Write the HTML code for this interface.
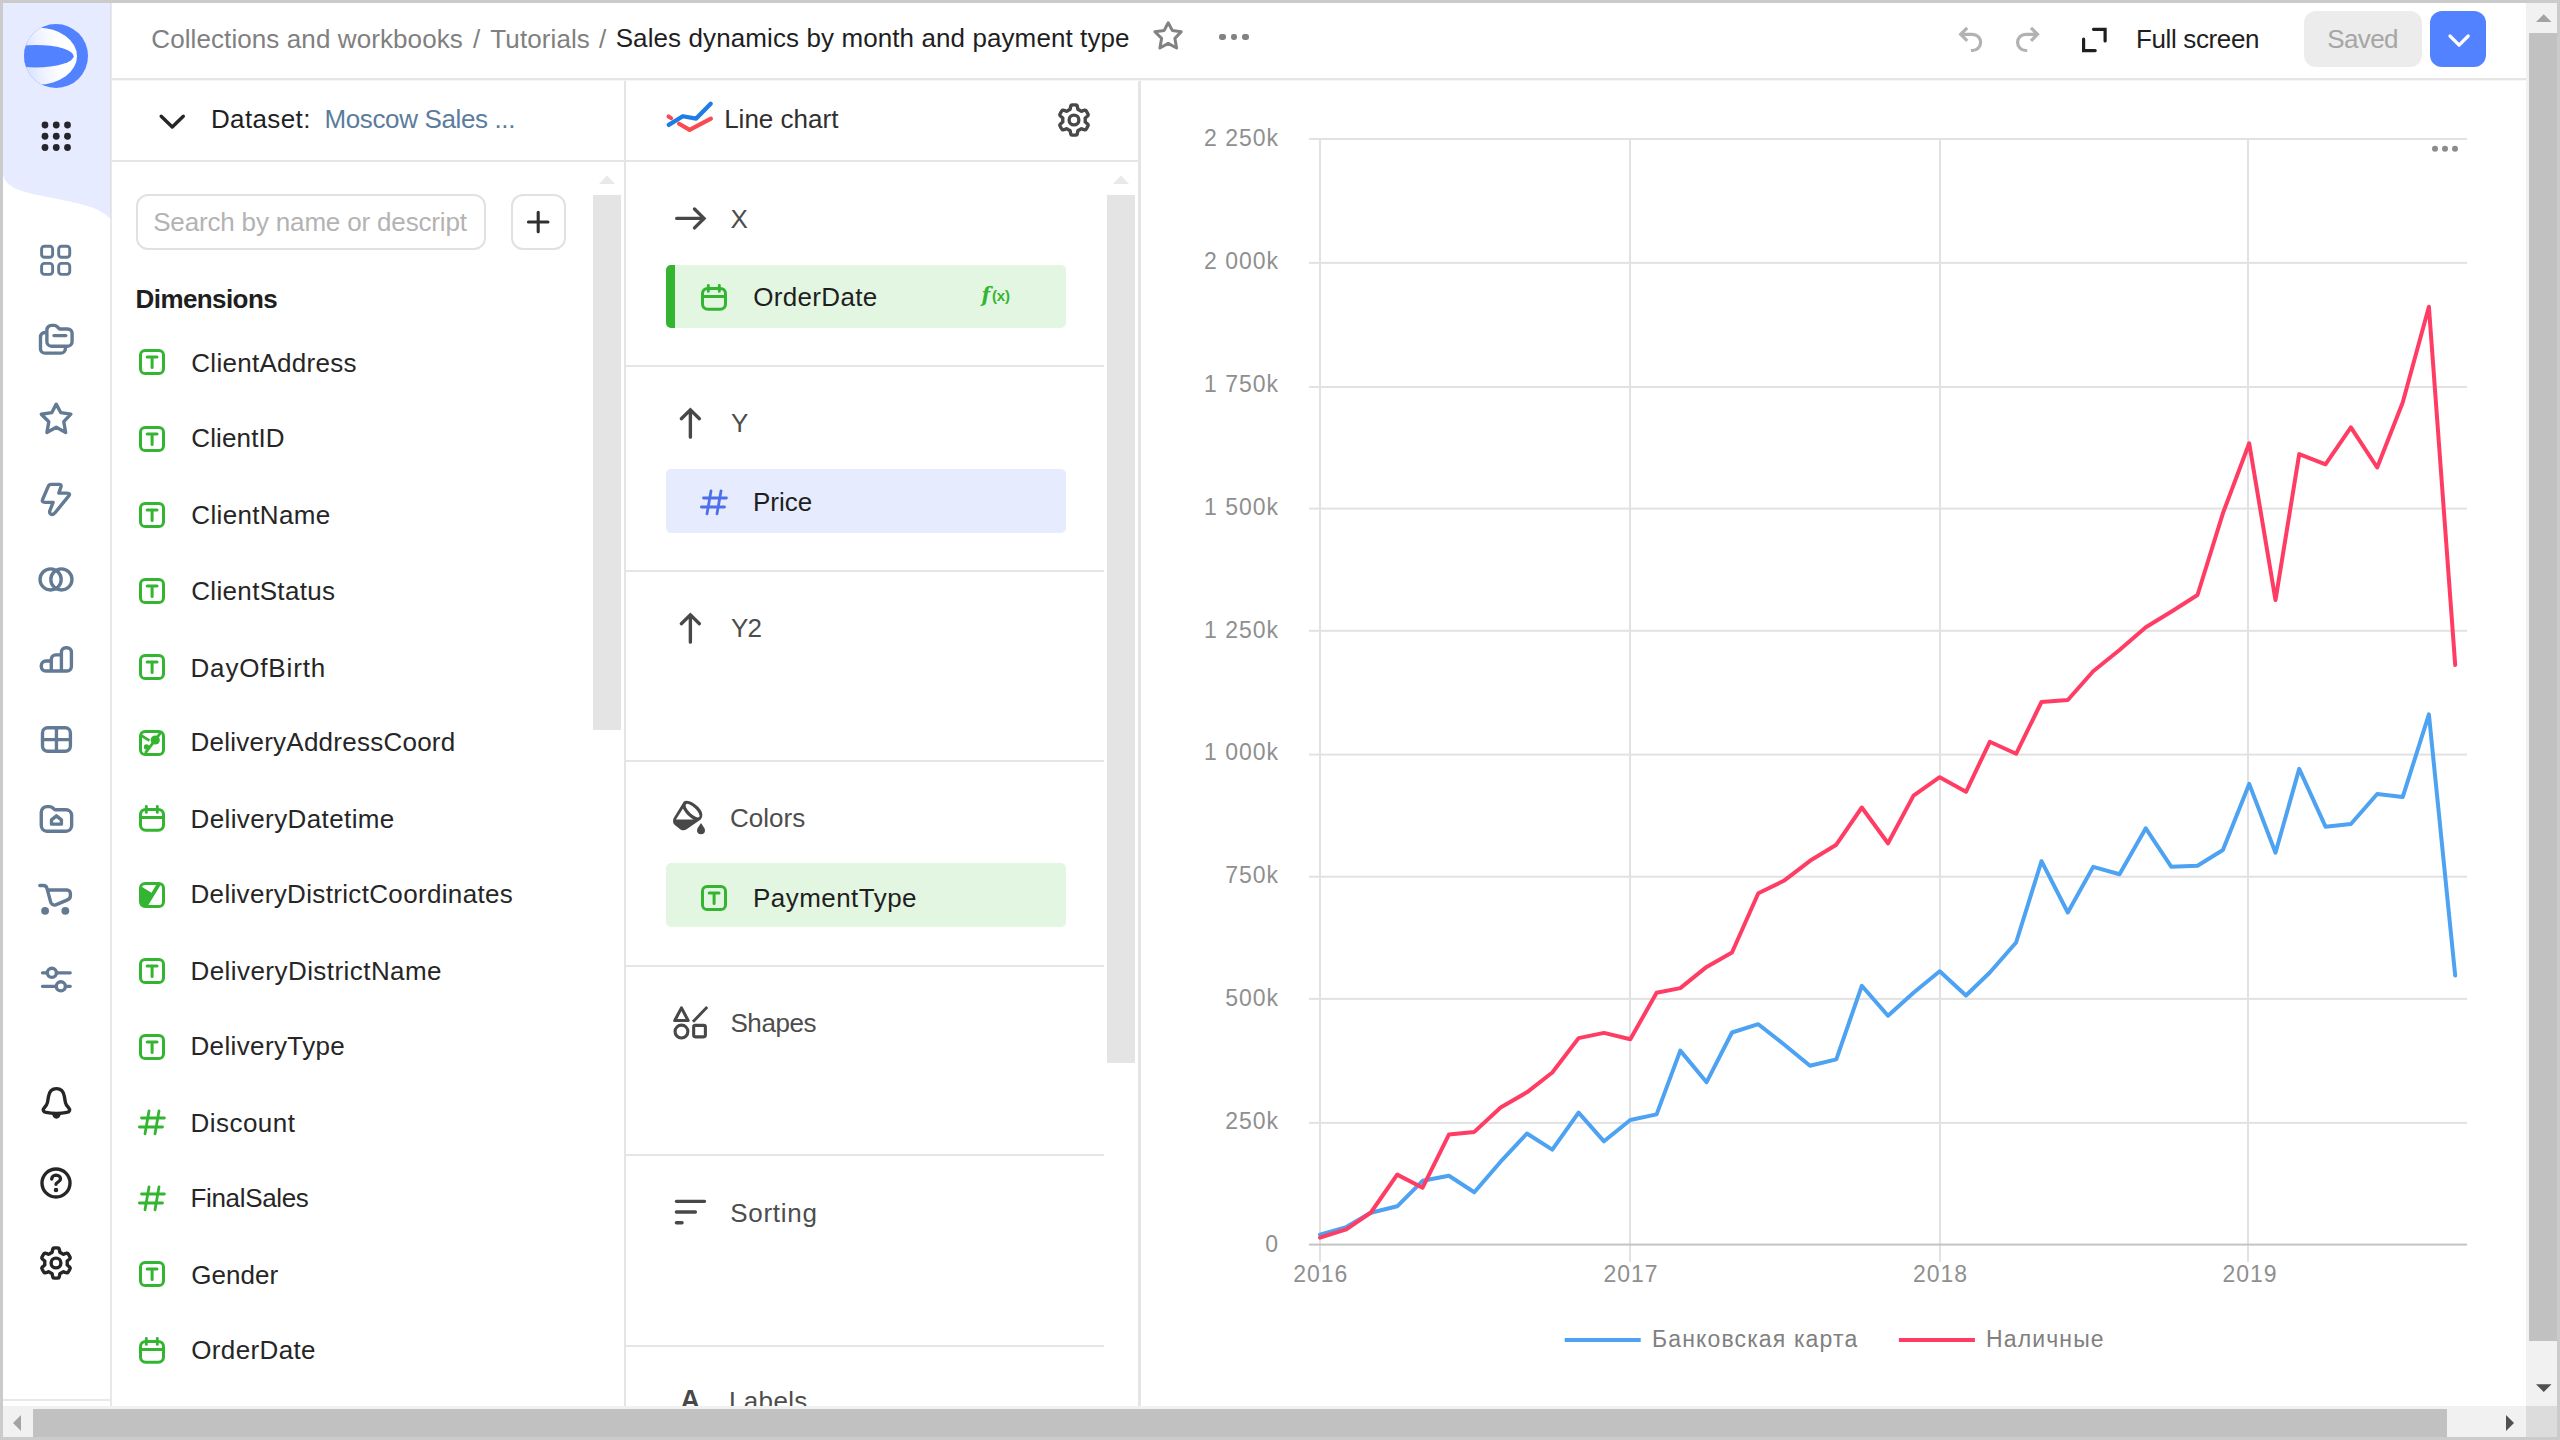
<!DOCTYPE html>
<html lang="en"><head><meta charset="utf-8"><title>Sales dynamics by month and payment type</title>
<style>
html,body{margin:0;padding:0}
body{width:2560px;height:1440px;overflow:hidden;background:#cbcbcb;position:relative;font-family:"Liberation Sans", Arial, sans-serif;}
#app{position:absolute;left:3px;top:3px;width:2554px;height:1434px;background:#fff;overflow:hidden}
#root{position:absolute;left:-3px;top:-3px;width:2560px;height:1440px}
.b{position:absolute;box-sizing:border-box}
.t{position:absolute;white-space:nowrap;font-family:"Liberation Sans", Arial, sans-serif}
.i{position:absolute;overflow:visible}
.cl{font-family:"Liberation Sans", Arial, sans-serif;font-size:23px;fill:#8f8f8f;letter-spacing:1px}
.lg{fill:#808080;letter-spacing:1.140px}
</style></head><body><div id="app"><div id="root">

<svg class="i" style="left:0;top:0" width="120" height="230" viewBox="0 0 120 230"><path d="M3 3H110.500V218.500C104.500 213.500 99 210 93.750 208 80 203 52 198 37.500 195 24 192 5 188 3 174Z" fill="#e6ebff"/></svg>
<div class="b" style="left:110px;top:3px;width:2px;height:1403px;background:rgba(0,0,0,0.09)"></div>
<div class="b" style="left:3px;top:1399px;width:108px;height:2px;background:#e8e8e8"></div>
<svg class="i" style="left:24px;top:24px" width="64" height="64" viewBox="0 0 64 64"><defs><linearGradient id="lg1" gradientUnits="userSpaceOnUse" x1="0" y1="36" x2="36" y2="30"><stop offset="0" stop-color="#d6e0ff"/><stop offset="0.450" stop-color="#eef2ff"/><stop offset="1" stop-color="#ffffff"/></linearGradient><clipPath id="cp1"><circle cx="32" cy="32" r="32"/></clipPath></defs><circle cx="32" cy="32" r="32" fill="#5282ff"/><g clip-path="url(#cp1)"><ellipse cx="14" cy="32.200" rx="39" ry="28.500" fill="url(#lg1)"/><ellipse cx="12" cy="32.200" rx="37.700" ry="11.200" fill="#5282ff"/></g></svg>
<svg class="i" style="left:0;top:0" width="120" height="160" viewBox="0 0 120 160"><circle cx="45" cy="125" r="3.400" fill="#25262b"/><circle cx="56.25" cy="125" r="3.400" fill="#25262b"/><circle cx="67.5" cy="125" r="3.400" fill="#25262b"/><circle cx="45" cy="136.25" r="3.400" fill="#25262b"/><circle cx="56.25" cy="136.25" r="3.400" fill="#25262b"/><circle cx="67.5" cy="136.25" r="3.400" fill="#25262b"/><circle cx="45" cy="147.5" r="3.400" fill="#25262b"/><circle cx="56.25" cy="147.5" r="3.400" fill="#25262b"/><circle cx="67.5" cy="147.5" r="3.400" fill="#25262b"/></svg>
<svg class="i" style="left:38.2px;top:243px" width="36" height="36" viewBox="0 0 16 16" ><rect x="1.6" y="1.45" width="4.9" height="4.9" rx="1.25" fill="none" stroke="#627a93" stroke-width="1.3" stroke-linecap="round" stroke-linejoin="round"/><rect x="1.6" y="9.05" width="4.9" height="4.9" rx="1.25" fill="none" stroke="#627a93" stroke-width="1.3" stroke-linecap="round" stroke-linejoin="round"/><rect x="9.2" y="1.45" width="4.9" height="4.9" rx="1.25" fill="none" stroke="#627a93" stroke-width="1.3" stroke-linecap="round" stroke-linejoin="round"/><rect x="9.2" y="9.05" width="4.9" height="4.9" rx="1.25" fill="none" stroke="#627a93" stroke-width="1.3" stroke-linecap="round" stroke-linejoin="round"/></svg>
<svg class="i" style="left:38.4px;top:322.2px" width="36" height="36" viewBox="0 0 16 16" ><path d="M3.95 3.5a2 2 0 0 1 2-2h1.2c.6 0 1.1.3 1.5.7l.9.9h3.6a2 2 0 0 1 2 2v3.650a2 2 0 0 1-2 2H5.950a2 2 0 0 1-2-2z" fill="none" stroke="#627a93" stroke-width="1.5" stroke-linecap="round" stroke-linejoin="round"/><path d="M3.2 4.650h-.1a2 2 0 0 0-2 2v5.2a2 2 0 0 0 2 2h7.050a2 2 0 0 0 2-2v-.4" fill="none" stroke="#627a93" stroke-width="1.5" stroke-linecap="round" stroke-linejoin="round"/><path d="M7.100 6.050H12.350" fill="none" stroke="#627a93" stroke-width="1.5" stroke-linecap="round" stroke-linejoin="round"/></svg>
<svg class="i" style="left:38.4px;top:401.3px" width="36" height="36" viewBox="0 0 16 16" ><path d="M8.1 1.4L10.15 5.2 14.6 5.85 11.45 9.2 12.3 14 8.1 11.7 3.95 14 4.8 9.2 1.45 5.9 6.1 5.2Z" fill="none" stroke="#627a93" stroke-width="1.5" stroke-linecap="round" stroke-linejoin="round"/></svg>
<svg class="i" style="left:38.4px;top:481px" width="36" height="36" viewBox="0 0 16 16" ><path d="M5.900 1.500H9.400Q10.500 1.500 10.200 2.550L9.250 5.400H12.800Q14.700 5.400 13.600 6.750L7.500 14.200Q6.400 15.400 5.500 14.600 5 14.100 5.200 13.400L6.700 9.500H3.100Q1.500 9.500 2.100 8.100L4.500 2.500Q4.900 1.500 5.900 1.500Z" fill="none" stroke="#627a93" stroke-width="1.5" stroke-linecap="round" stroke-linejoin="round"/></svg>
<svg class="i" style="left:38.4px;top:561px" width="36" height="36" viewBox="0 0 16 16" ><circle cx="5.6" cy="8.2" r="4.7" fill="none" stroke="#627a93" stroke-width="1.5" stroke-linecap="round" stroke-linejoin="round"/><circle cx="10.4" cy="8.2" r="4.7" fill="none" stroke="#627a93" stroke-width="1.5" stroke-linecap="round" stroke-linejoin="round"/></svg>
<svg class="i" style="left:38.4px;top:641px" width="36" height="36" viewBox="0 0 16 16" ><path d="M1.450 10.900a2 2 0 0 1 2-2H5.900V13.350H3.450a2 2 0 0 1-2-2zM5.900 8.150a2 2 0 0 1 2-2H10.400V13.350H5.900zM10.400 5a2 2 0 0 1 2-2h.450a2 2 0 0 1 2 2v6.350a2 2 0 0 1-2 2H10.400z" fill="none" stroke="#627a93" stroke-width="1.5" stroke-linecap="round" stroke-linejoin="round"/></svg>
<svg class="i" style="left:38.4px;top:721px" width="36" height="36" viewBox="0 0 16 16" ><rect x="2" y="3" width="12.400" height="10.450" rx="2.300" fill="none" stroke="#627a93" stroke-width="1.5" stroke-linecap="round" stroke-linejoin="round"/><path d="M8.200 3v10.400M2 8.250h12.400" fill="none" stroke="#627a93" stroke-width="1.5" stroke-linecap="round" stroke-linejoin="round"/></svg>
<svg class="i" style="left:38.4px;top:801px" width="36" height="36" viewBox="0 0 16 16" ><path d="M1.450 5a2.500 2.500 0 0 1 2.500-2.500h1.100c.7 0 1.300.3 1.700.7l.5.5c.150.150.350.200.550.200h4.650a2.500 2.500 0 0 1 2.500 2.500v4.530a2.500 2.500 0 0 1-2.500 2.500H3.950a2.500 2.500 0 0 1-2.500-2.500z" fill="none" stroke="#627a93" stroke-width="1.5" stroke-linecap="round" stroke-linejoin="round"/><path d="M8.200 6.600L10.400 8.400V10.300H6V8.400Z" fill="none" stroke="#627a93" stroke-width="1.5" stroke-linecap="round" stroke-linejoin="round"/></svg>
<svg class="i" style="left:38.4px;top:881px" width="36" height="36" viewBox="0 0 16 16" ><path d="M.8 2H2.400c.8 0 1.400.5 1.600 1.300L5.600 9.300c.250 1 1.300 1.700 2.300 1.300l5.200-2.200c.8-.350 1.300-1.100 1.300-2V5.500c0-.8-.7-1.500-1.500-1.500H4.400" fill="none" stroke="#627a93" stroke-width="1.5" stroke-linecap="round" stroke-linejoin="round"/><circle cx="3.150" cy="13.260" r="1.750" fill="#627a93"/><circle cx="12.150" cy="13.260" r="1.750" fill="#627a93"/></svg>
<svg class="i" style="left:38.4px;top:961px" width="36" height="36" viewBox="0 0 16 16" ><path d="M2 5.260H4.100M8.200 5.260H14.300M2 11.260H8.100M12.200 11.260H14.300" fill="none" stroke="#627a93" stroke-width="1.5" stroke-linecap="round" stroke-linejoin="round"/><circle cx="6.170" cy="5.260" r="2.030" fill="none" stroke="#627a93" stroke-width="1.5" stroke-linecap="round" stroke-linejoin="round"/><circle cx="10.150" cy="11.260" r="2.030" fill="none" stroke="#627a93" stroke-width="1.5" stroke-linecap="round" stroke-linejoin="round"/></svg>
<svg class="i" style="left:38px;top:1085px" width="36" height="36" viewBox="0 0 16 16" ><path d="M8.200 1.600C5.900 1.600 5 3.200 4.700 5L4.200 7.800C4 8.800 3.400 9.500 2.800 10.100 1.900 11 2.300 12 3.600 12.200 5 12.500 6.500 12.650 8.200 12.650 9.900 12.650 11.400 12.500 12.800 12.200 14.100 12 14.500 11 13.600 10.100 13 9.500 12.400 8.800 12.200 7.800L11.700 5C11.400 3.200 10.500 1.600 8.200 1.600Z" fill="none" stroke="#262626" stroke-width="1.5" stroke-linecap="round" stroke-linejoin="round"/><path d="M6.250 12.900H10.150C9.900 14.300 9.200 14.950 8.200 14.950 7.200 14.950 6.500 14.300 6.250 12.900Z" fill="#262626"/></svg>
<svg class="i" style="left:38.46px;top:1164.6px" width="36" height="36" viewBox="0 0 16 16" ><circle cx="8" cy="8" r="6.230" fill="none" stroke="#262626" stroke-width="1.5" stroke-linecap="round" stroke-linejoin="round"/><path d="M6.100 6.200A1.950 1.750 0 0 1 8 4.500C9.200 4.500 10 5.300 10 6.200 10 7.600 8 7.600 8 8.600" fill="none" stroke="#262626" stroke-width="1.5" stroke-linecap="round" stroke-linejoin="round"/><circle cx="8" cy="11.060" r="1" fill="#262626"/></svg>
<svg class="i" style="left:38.46px;top:1244.8px" width="36" height="36" viewBox="0 0 16 16" ><path d="M8.00 1.28L8.12 1.28L8.23 1.28L8.35 1.29L8.47 1.30L8.59 1.31L8.70 1.32L8.82 1.33L8.94 1.35L9.05 1.36L9.17 1.39L9.27 1.48L9.36 1.62L9.43 1.80L9.49 2.01L9.54 2.24L9.59 2.47L9.62 2.70L9.65 2.91L9.69 3.09L9.74 3.23L9.79 3.32L9.87 3.36L9.95 3.40L10.03 3.43L10.11 3.47L10.19 3.51L10.27 3.54L10.35 3.59L10.42 3.63L10.50 3.67L10.58 3.71L10.65 3.76L10.72 3.81L10.80 3.85L10.87 3.90L10.94 3.95L11.01 4.01L11.08 4.06L11.15 4.11L11.26 4.11L11.41 4.08L11.58 4.02L11.78 3.95L12.00 3.86L12.22 3.78L12.44 3.71L12.66 3.66L12.85 3.63L13.02 3.64L13.14 3.69L13.22 3.77L13.30 3.86L13.37 3.96L13.44 4.05L13.50 4.15L13.57 4.24L13.64 4.34L13.70 4.44L13.76 4.54L13.82 4.64L13.88 4.74L13.93 4.85L13.99 4.95L14.04 5.05L14.09 5.16L14.14 5.27L14.19 5.37L14.23 5.48L14.27 5.59L14.31 5.70L14.28 5.84L14.21 5.98L14.09 6.14L13.94 6.30L13.76 6.46L13.58 6.61L13.40 6.75L13.24 6.89L13.10 7.01L13.00 7.12L12.95 7.22L12.95 7.30L12.96 7.39L12.97 7.48L12.98 7.56L12.99 7.65L12.99 7.74L13.00 7.83L13.00 7.91L13.00 8.00L13.00 8.09L13.00 8.17L12.99 8.26L12.99 8.35L12.98 8.44L12.97 8.52L12.96 8.61L12.95 8.70L12.95 8.78L13.00 8.88L13.10 8.99L13.24 9.11L13.40 9.25L13.58 9.39L13.76 9.54L13.94 9.70L14.09 9.86L14.21 10.02L14.28 10.16L14.31 10.30L14.27 10.41L14.23 10.52L14.19 10.63L14.14 10.73L14.09 10.84L14.04 10.95L13.99 11.05L13.93 11.15L13.88 11.26L13.82 11.36L13.76 11.46L13.70 11.56L13.64 11.66L13.57 11.76L13.50 11.85L13.44 11.95L13.37 12.04L13.30 12.14L13.22 12.23L13.14 12.31L13.02 12.36L12.85 12.37L12.66 12.34L12.44 12.29L12.22 12.22L12.00 12.14L11.78 12.05L11.58 11.98L11.41 11.92L11.26 11.89L11.15 11.89L11.08 11.94L11.01 11.99L10.94 12.05L10.87 12.10L10.80 12.15L10.72 12.19L10.65 12.24L10.58 12.29L10.50 12.33L10.42 12.37L10.35 12.41L10.27 12.46L10.19 12.49L10.11 12.53L10.03 12.57L9.95 12.60L9.87 12.64L9.79 12.68L9.74 12.77L9.69 12.91L9.65 13.09L9.62 13.30L9.59 13.53L9.54 13.76L9.49 13.99L9.43 14.20L9.36 14.38L9.27 14.52L9.17 14.61L9.05 14.64L8.94 14.65L8.82 14.67L8.70 14.68L8.59 14.69L8.47 14.70L8.35 14.71L8.23 14.72L8.12 14.72L8.00 14.72L7.88 14.72L7.77 14.72L7.65 14.71L7.53 14.70L7.41 14.69L7.30 14.68L7.18 14.67L7.06 14.65L6.95 14.64L6.83 14.61L6.73 14.52L6.64 14.38L6.57 14.20L6.51 13.99L6.46 13.76L6.41 13.53L6.38 13.30L6.35 13.09L6.31 12.91L6.26 12.77L6.21 12.68L6.13 12.64L6.05 12.60L5.97 12.57L5.89 12.53L5.81 12.49L5.73 12.46L5.65 12.41L5.58 12.37L5.50 12.33L5.42 12.29L5.35 12.24L5.28 12.19L5.20 12.15L5.13 12.10L5.06 12.05L4.99 11.99L4.92 11.94L4.85 11.89L4.74 11.89L4.59 11.92L4.42 11.98L4.22 12.05L4.00 12.14L3.78 12.22L3.56 12.29L3.34 12.34L3.15 12.37L2.98 12.36L2.86 12.31L2.78 12.23L2.70 12.14L2.63 12.04L2.56 11.95L2.50 11.85L2.43 11.76L2.36 11.66L2.30 11.56L2.24 11.46L2.18 11.36L2.12 11.26L2.07 11.15L2.01 11.05L1.96 10.95L1.91 10.84L1.86 10.73L1.81 10.63L1.77 10.52L1.73 10.41L1.69 10.30L1.72 10.16L1.79 10.02L1.91 9.86L2.06 9.70L2.24 9.54L2.42 9.39L2.60 9.25L2.76 9.11L2.90 8.99L3.00 8.88L3.05 8.78L3.05 8.70L3.04 8.61L3.03 8.52L3.02 8.44L3.01 8.35L3.01 8.26L3.00 8.17L3.00 8.09L3.00 8.00L3.00 7.91L3.00 7.83L3.01 7.74L3.01 7.65L3.02 7.56L3.03 7.48L3.04 7.39L3.05 7.30L3.05 7.22L3.00 7.12L2.90 7.01L2.76 6.89L2.60 6.75L2.42 6.61L2.24 6.46L2.06 6.30L1.91 6.14L1.79 5.98L1.72 5.84L1.69 5.70L1.73 5.59L1.77 5.48L1.81 5.37L1.86 5.27L1.91 5.16L1.96 5.05L2.01 4.95L2.07 4.85L2.12 4.74L2.18 4.64L2.24 4.54L2.30 4.44L2.36 4.34L2.43 4.24L2.50 4.15L2.56 4.05L2.63 3.96L2.70 3.86L2.78 3.77L2.86 3.69L2.98 3.64L3.15 3.63L3.34 3.66L3.56 3.71L3.78 3.78L4.00 3.86L4.22 3.95L4.42 4.02L4.59 4.08L4.74 4.11L4.85 4.11L4.92 4.06L4.99 4.01L5.06 3.95L5.13 3.90L5.20 3.85L5.28 3.81L5.35 3.76L5.42 3.71L5.50 3.67L5.58 3.63L5.65 3.59L5.73 3.54L5.81 3.51L5.89 3.47L5.97 3.43L6.05 3.40L6.13 3.36L6.21 3.32L6.26 3.23L6.31 3.09L6.35 2.91L6.38 2.70L6.41 2.47L6.46 2.24L6.51 2.01L6.57 1.80L6.64 1.62L6.73 1.48L6.83 1.39L6.95 1.36L7.06 1.35L7.18 1.33L7.30 1.32L7.41 1.31L7.53 1.30L7.65 1.29L7.77 1.28L7.88 1.28Z" fill="none" stroke="#262626" stroke-width="1.5" stroke-linecap="round" stroke-linejoin="round"/><circle cx="8" cy="8" r="2.17" fill="none" stroke="#262626" stroke-width="1.5" stroke-linecap="round" stroke-linejoin="round"/></svg>
<div class="b" style="left:112px;top:78px;width:2414px;height:2px;background:#e5e5e5"></div>
<div class="b" style="left:112px;top:80px;width:2414px;height:1px;background:#f6f6f6"></div>
<div class="b" style="left:112px;top:160px;width:1026px;height:2px;background:#e5e5e5"></div>
<div class="b" style="left:624px;top:81px;width:2px;height:1325px;background:#e5e5e5"></div>
<div class="b" style="left:1138px;top:81px;width:3px;height:1325px;background:#e5e5e5"></div>
<svg class="i" style="left:1151.85px;top:20.1px" width="32" height="32" viewBox="0 0 16 16" ><path d="M8.1 1.4L10.15 5.2 14.6 5.85 11.45 9.2 12.3 14 8.1 11.7 3.95 14 4.8 9.2 1.45 5.9 6.1 5.2Z" fill="none" stroke="#828282" stroke-width="1.5" stroke-linecap="round" stroke-linejoin="round"/></svg>
<div class="b" style="left:1219.25px;top:33.900px;width:6.500px;height:6.500px;border-radius:2.400px;background:#828282"></div>
<div class="b" style="left:1230.65px;top:33.900px;width:6.500px;height:6.500px;border-radius:2.400px;background:#828282"></div>
<div class="b" style="left:1242.15px;top:33.900px;width:6.500px;height:6.500px;border-radius:2.400px;background:#828282"></div>
<svg class="i" style="left:0;top:0" width="2560" height="1440" viewBox="0 0 2560 1440"><path d="M1967.200 27.900L1960.700 34.300L1967.200 40.800M1961.500 34.300H1972.500A8.100 8.100 0 0 1 1972.500 50.500H1971" fill="none" stroke="#b2b2b2" stroke-width="3.200" stroke-linecap="butt" stroke-linejoin="miter"/><path d="M2031 27.900L2037.500 34.300L2031 40.800M2036.700 34.300H2025.700A8.100 8.100 0 0 0 2025.700 50.500H2027.200" fill="none" stroke="#b2b2b2" stroke-width="3.200" stroke-linecap="butt" stroke-linejoin="miter"/><path d="M2093.500 29.300H2105.100V40.900M2083.600 39.200V50.600H2095.200" fill="none" stroke="#1f1f1f" stroke-width="3.200" stroke-linecap="round" stroke-linejoin="miter"/></svg>
<div class="b" style="left:2304px;top:11px;width:118px;height:56px;border-radius:12px;background:#ececec"></div>
<div class="b" style="left:2430px;top:11px;width:56px;height:56px;border-radius:12px;background:#5282ff"></div>
<svg class="i" style="left:0;top:0" width="2560" height="1440" viewBox="0 0 2560 1440"><path d="M2450 36L2459.100 45.200L2468.200 36" fill="none" stroke="#fff" stroke-width="3.200" stroke-linecap="round" stroke-linejoin="round"/></svg>
<svg class="i" style="left:0;top:0" width="2560" height="1440" viewBox="0 0 2560 1440"><path d="M161.200 116.200L172.250 127L183.300 116.200" fill="none" stroke="#262626" stroke-width="3.400" stroke-linecap="round" stroke-linejoin="round"/></svg>
<div class="b" style="left:136px;top:194px;width:350px;height:56px;border:2px solid #e1e1e1;border-radius:12px"></div>
<div class="b" style="left:511px;top:194px;width:55px;height:56px;border:2px solid #e1e1e1;border-radius:12px"></div>
<svg class="i" style="left:0;top:0" width="2560" height="1440" viewBox="0 0 2560 1440"><path d="M538.200 212.300v19.500M528.450 222h19.500" fill="none" stroke="#303030" stroke-width="3.100" stroke-linecap="round"/></svg>
<div class="b" style="left:593px;top:195px;width:28px;height:534.500px;background:#e4e4e4"></div>
<svg class="i" style="left:599px;top:175px" width="16" height="9" viewBox="0 0 16 9"><path d="M0 9L8 0.500 16 9z" fill="#e9e9e9"/></svg>
<svg class="i" style="left:139px;top:349px" width="26" height="26" viewBox="0 0 26 26" ><rect x="1.5" y="1.5" width="23" height="23" rx="4.6" fill="none" stroke="#34b531" stroke-width="3" stroke-linecap="round" stroke-linejoin="round"/><path d="M8.2 8H18M13.1 8v10.4" fill="none" stroke="#34b531" stroke-width="3" stroke-linecap="round" stroke-linejoin="round"/></svg>
<svg class="i" style="left:139px;top:426px" width="26" height="26" viewBox="0 0 26 26" ><rect x="1.5" y="1.5" width="23" height="23" rx="4.6" fill="none" stroke="#34b531" stroke-width="3" stroke-linecap="round" stroke-linejoin="round"/><path d="M8.2 8H18M13.1 8v10.4" fill="none" stroke="#34b531" stroke-width="3" stroke-linecap="round" stroke-linejoin="round"/></svg>
<svg class="i" style="left:139px;top:502px" width="26" height="26" viewBox="0 0 26 26" ><rect x="1.5" y="1.5" width="23" height="23" rx="4.6" fill="none" stroke="#34b531" stroke-width="3" stroke-linecap="round" stroke-linejoin="round"/><path d="M8.2 8H18M13.1 8v10.4" fill="none" stroke="#34b531" stroke-width="3" stroke-linecap="round" stroke-linejoin="round"/></svg>
<svg class="i" style="left:139px;top:578px" width="26" height="26" viewBox="0 0 26 26" ><rect x="1.5" y="1.5" width="23" height="23" rx="4.6" fill="none" stroke="#34b531" stroke-width="3" stroke-linecap="round" stroke-linejoin="round"/><path d="M8.2 8H18M13.1 8v10.4" fill="none" stroke="#34b531" stroke-width="3" stroke-linecap="round" stroke-linejoin="round"/></svg>
<svg class="i" style="left:139px;top:654px" width="26" height="26" viewBox="0 0 26 26" ><rect x="1.5" y="1.5" width="23" height="23" rx="4.6" fill="none" stroke="#34b531" stroke-width="3" stroke-linecap="round" stroke-linejoin="round"/><path d="M8.2 8H18M13.1 8v10.4" fill="none" stroke="#34b531" stroke-width="3" stroke-linecap="round" stroke-linejoin="round"/></svg>
<svg class="i" style="left:139px;top:730px" width="26" height="26" viewBox="0 0 26 26" ><rect x="1.5" y="1.5" width="23" height="23" rx="4.6" fill="none" stroke="#34b531" stroke-width="3" stroke-linecap="round" stroke-linejoin="round"/><path d="M2.5 5.6L10.4 10.6M21.7 2.7L6.25 23.1" fill="none" stroke="#34b531" stroke-width="2.8" stroke-linecap="butt" stroke-linejoin="round"/><circle cx="16.25" cy="10" r="4.6" fill="#34b531"/><circle cx="7.5" cy="16.9" r="2.7" fill="#34b531"/></svg>
<svg class="i" style="left:139px;top:804.5px" width="26" height="30" viewBox="0 0 26 30" ><rect x="1.5" y="4.4" width="23" height="20.9" rx="5.2" fill="none" stroke="#34b531" stroke-width="3" stroke-linecap="round" stroke-linejoin="round"/><path d="M1.5 12.5h23M7.3 1.5v5.9M18.3 1.5v5.9" fill="none" stroke="#34b531" stroke-width="2.9" stroke-linecap="round" stroke-linejoin="round"/></svg>
<svg class="i" style="left:139px;top:882px" width="26" height="26" viewBox="0 0 26 26" ><path d="M1.5 4L12.5 10.8 17.4 2.5H21.9L8.9 23.8H1.5z" fill="#34b531"/><rect x="1.5" y="1.5" width="23" height="23" rx="4.6" fill="none" stroke="#34b531" stroke-width="3" stroke-linecap="round" stroke-linejoin="round"/></svg>
<svg class="i" style="left:139px;top:958px" width="26" height="26" viewBox="0 0 26 26" ><rect x="1.5" y="1.5" width="23" height="23" rx="4.6" fill="none" stroke="#34b531" stroke-width="3" stroke-linecap="round" stroke-linejoin="round"/><path d="M8.2 8H18M13.1 8v10.4" fill="none" stroke="#34b531" stroke-width="3" stroke-linecap="round" stroke-linejoin="round"/></svg>
<svg class="i" style="left:139px;top:1034px" width="26" height="26" viewBox="0 0 26 26" ><rect x="1.5" y="1.5" width="23" height="23" rx="4.6" fill="none" stroke="#34b531" stroke-width="3" stroke-linecap="round" stroke-linejoin="round"/><path d="M8.2 8H18M13.1 8v10.4" fill="none" stroke="#34b531" stroke-width="3" stroke-linecap="round" stroke-linejoin="round"/></svg>
<svg class="i" style="left:139px;top:1110px" width="27" height="26" viewBox="0 0 27 26" ><path d="M2.5 8H25.4M0.4 17H23.5M10 0.9L6 23.8M20 0.9L16 23.8" fill="none" stroke="#34b531" stroke-width="2.8" stroke-linecap="round" stroke-linejoin="round"/></svg>
<svg class="i" style="left:139px;top:1186px" width="27" height="26" viewBox="0 0 27 26" ><path d="M2.5 8H25.4M0.4 17H23.5M10 0.9L6 23.8M20 0.9L16 23.8" fill="none" stroke="#34b531" stroke-width="2.8" stroke-linecap="round" stroke-linejoin="round"/></svg>
<svg class="i" style="left:139px;top:1261px" width="26" height="26" viewBox="0 0 26 26" ><rect x="1.5" y="1.5" width="23" height="23" rx="4.6" fill="none" stroke="#34b531" stroke-width="3" stroke-linecap="round" stroke-linejoin="round"/><path d="M8.2 8H18M13.1 8v10.4" fill="none" stroke="#34b531" stroke-width="3" stroke-linecap="round" stroke-linejoin="round"/></svg>
<svg class="i" style="left:139px;top:1336.5px" width="26" height="30" viewBox="0 0 26 30" ><rect x="1.5" y="4.4" width="23" height="20.9" rx="5.2" fill="none" stroke="#34b531" stroke-width="3" stroke-linecap="round" stroke-linejoin="round"/><path d="M1.5 12.5h23M7.3 1.5v5.9M18.3 1.5v5.9" fill="none" stroke="#34b531" stroke-width="2.9" stroke-linecap="round" stroke-linejoin="round"/></svg>
<svg class="i" style="left:650px;top:90px" width="120" height="60" viewBox="0 0 2560 1280"><path d="M395 565L450 600M620 720L845 850L1300 610" fill="none" stroke="#fb4a4f" stroke-width="88" stroke-linecap="round" stroke-linejoin="round"/><path d="M400 745L700 560L985 610L1295 295" fill="none" stroke="#1e7de5" stroke-width="92" stroke-linecap="round" stroke-linejoin="round"/></svg>
<svg class="i" style="left:1055.96px;top:102.33px" width="36" height="36" viewBox="0 0 16 16" ><path d="M8.00 1.28L8.12 1.28L8.23 1.28L8.35 1.29L8.47 1.30L8.59 1.31L8.70 1.32L8.82 1.33L8.94 1.35L9.05 1.36L9.17 1.39L9.27 1.48L9.36 1.62L9.43 1.80L9.49 2.01L9.54 2.24L9.59 2.47L9.62 2.70L9.65 2.91L9.69 3.09L9.74 3.23L9.79 3.32L9.87 3.36L9.95 3.40L10.03 3.43L10.11 3.47L10.19 3.51L10.27 3.54L10.35 3.59L10.42 3.63L10.50 3.67L10.58 3.71L10.65 3.76L10.72 3.81L10.80 3.85L10.87 3.90L10.94 3.95L11.01 4.01L11.08 4.06L11.15 4.11L11.26 4.11L11.41 4.08L11.58 4.02L11.78 3.95L12.00 3.86L12.22 3.78L12.44 3.71L12.66 3.66L12.85 3.63L13.02 3.64L13.14 3.69L13.22 3.77L13.30 3.86L13.37 3.96L13.44 4.05L13.50 4.15L13.57 4.24L13.64 4.34L13.70 4.44L13.76 4.54L13.82 4.64L13.88 4.74L13.93 4.85L13.99 4.95L14.04 5.05L14.09 5.16L14.14 5.27L14.19 5.37L14.23 5.48L14.27 5.59L14.31 5.70L14.28 5.84L14.21 5.98L14.09 6.14L13.94 6.30L13.76 6.46L13.58 6.61L13.40 6.75L13.24 6.89L13.10 7.01L13.00 7.12L12.95 7.22L12.95 7.30L12.96 7.39L12.97 7.48L12.98 7.56L12.99 7.65L12.99 7.74L13.00 7.83L13.00 7.91L13.00 8.00L13.00 8.09L13.00 8.17L12.99 8.26L12.99 8.35L12.98 8.44L12.97 8.52L12.96 8.61L12.95 8.70L12.95 8.78L13.00 8.88L13.10 8.99L13.24 9.11L13.40 9.25L13.58 9.39L13.76 9.54L13.94 9.70L14.09 9.86L14.21 10.02L14.28 10.16L14.31 10.30L14.27 10.41L14.23 10.52L14.19 10.63L14.14 10.73L14.09 10.84L14.04 10.95L13.99 11.05L13.93 11.15L13.88 11.26L13.82 11.36L13.76 11.46L13.70 11.56L13.64 11.66L13.57 11.76L13.50 11.85L13.44 11.95L13.37 12.04L13.30 12.14L13.22 12.23L13.14 12.31L13.02 12.36L12.85 12.37L12.66 12.34L12.44 12.29L12.22 12.22L12.00 12.14L11.78 12.05L11.58 11.98L11.41 11.92L11.26 11.89L11.15 11.89L11.08 11.94L11.01 11.99L10.94 12.05L10.87 12.10L10.80 12.15L10.72 12.19L10.65 12.24L10.58 12.29L10.50 12.33L10.42 12.37L10.35 12.41L10.27 12.46L10.19 12.49L10.11 12.53L10.03 12.57L9.95 12.60L9.87 12.64L9.79 12.68L9.74 12.77L9.69 12.91L9.65 13.09L9.62 13.30L9.59 13.53L9.54 13.76L9.49 13.99L9.43 14.20L9.36 14.38L9.27 14.52L9.17 14.61L9.05 14.64L8.94 14.65L8.82 14.67L8.70 14.68L8.59 14.69L8.47 14.70L8.35 14.71L8.23 14.72L8.12 14.72L8.00 14.72L7.88 14.72L7.77 14.72L7.65 14.71L7.53 14.70L7.41 14.69L7.30 14.68L7.18 14.67L7.06 14.65L6.95 14.64L6.83 14.61L6.73 14.52L6.64 14.38L6.57 14.20L6.51 13.99L6.46 13.76L6.41 13.53L6.38 13.30L6.35 13.09L6.31 12.91L6.26 12.77L6.21 12.68L6.13 12.64L6.05 12.60L5.97 12.57L5.89 12.53L5.81 12.49L5.73 12.46L5.65 12.41L5.58 12.37L5.50 12.33L5.42 12.29L5.35 12.24L5.28 12.19L5.20 12.15L5.13 12.10L5.06 12.05L4.99 11.99L4.92 11.94L4.85 11.89L4.74 11.89L4.59 11.92L4.42 11.98L4.22 12.05L4.00 12.14L3.78 12.22L3.56 12.29L3.34 12.34L3.15 12.37L2.98 12.36L2.86 12.31L2.78 12.23L2.70 12.14L2.63 12.04L2.56 11.95L2.50 11.85L2.43 11.76L2.36 11.66L2.30 11.56L2.24 11.46L2.18 11.36L2.12 11.26L2.07 11.15L2.01 11.05L1.96 10.95L1.91 10.84L1.86 10.73L1.81 10.63L1.77 10.52L1.73 10.41L1.69 10.30L1.72 10.16L1.79 10.02L1.91 9.86L2.06 9.70L2.24 9.54L2.42 9.39L2.60 9.25L2.76 9.11L2.90 8.99L3.00 8.88L3.05 8.78L3.05 8.70L3.04 8.61L3.03 8.52L3.02 8.44L3.01 8.35L3.01 8.26L3.00 8.17L3.00 8.09L3.00 8.00L3.00 7.91L3.00 7.83L3.01 7.74L3.01 7.65L3.02 7.56L3.03 7.48L3.04 7.39L3.05 7.30L3.05 7.22L3.00 7.12L2.90 7.01L2.76 6.89L2.60 6.75L2.42 6.61L2.24 6.46L2.06 6.30L1.91 6.14L1.79 5.98L1.72 5.84L1.69 5.70L1.73 5.59L1.77 5.48L1.81 5.37L1.86 5.27L1.91 5.16L1.96 5.05L2.01 4.95L2.07 4.85L2.12 4.74L2.18 4.64L2.24 4.54L2.30 4.44L2.36 4.34L2.43 4.24L2.50 4.15L2.56 4.05L2.63 3.96L2.70 3.86L2.78 3.77L2.86 3.69L2.98 3.64L3.15 3.63L3.34 3.66L3.56 3.71L3.78 3.78L4.00 3.86L4.22 3.95L4.42 4.02L4.59 4.08L4.74 4.11L4.85 4.11L4.92 4.06L4.99 4.01L5.06 3.95L5.13 3.90L5.20 3.85L5.28 3.81L5.35 3.76L5.42 3.71L5.50 3.67L5.58 3.63L5.65 3.59L5.73 3.54L5.81 3.51L5.89 3.47L5.97 3.43L6.05 3.40L6.13 3.36L6.21 3.32L6.26 3.23L6.31 3.09L6.35 2.91L6.38 2.70L6.41 2.47L6.46 2.24L6.51 2.01L6.57 1.80L6.64 1.62L6.73 1.48L6.83 1.39L6.95 1.36L7.06 1.35L7.18 1.33L7.30 1.32L7.41 1.31L7.53 1.30L7.65 1.29L7.77 1.28L7.88 1.28Z" fill="none" stroke="#484848" stroke-width="1.5" stroke-linecap="round" stroke-linejoin="round"/><circle cx="8" cy="8" r="2.17" fill="none" stroke="#484848" stroke-width="1.5" stroke-linecap="round" stroke-linejoin="round"/></svg>
<div class="b" style="left:1107px;top:195px;width:28px;height:867.500px;background:#e4e4e4"></div>
<svg class="i" style="left:1113px;top:175px" width="16" height="9" viewBox="0 0 16 9"><path d="M0 9L8 0.500 16 9z" fill="#e9e9e9"/></svg>
<div class="b" style="left:626px;top:365px;width:478px;height:2px;background:#e5e5e5"></div>
<div class="b" style="left:626px;top:570px;width:478px;height:2px;background:#e5e5e5"></div>
<div class="b" style="left:626px;top:760px;width:478px;height:2px;background:#e5e5e5"></div>
<div class="b" style="left:626px;top:965px;width:478px;height:2px;background:#e5e5e5"></div>
<div class="b" style="left:626px;top:1154px;width:478px;height:2px;background:#e5e5e5"></div>
<div class="b" style="left:626px;top:1345px;width:478px;height:2px;background:#e5e5e5"></div>
<div class="b" style="left:666px;top:264.500px;width:400px;height:63.500px;border-radius:5px;background:#e3f6e2;overflow:hidden"><div style="width:9px;height:100%;background:#34b531"></div></div>
<div class="b" style="left:666px;top:469px;width:400px;height:64px;border-radius:5px;background:#e6ecfe"></div>
<div class="b" style="left:666px;top:863px;width:400px;height:63.500px;border-radius:5px;background:#e3f6e2"></div>
<svg class="i" style="left:701.2px;top:283.5px" width="26" height="30" viewBox="0 0 26 30" ><rect x="1.5" y="4.4" width="23" height="20.9" rx="5.2" fill="none" stroke="#34b531" stroke-width="3" stroke-linecap="round" stroke-linejoin="round"/><path d="M1.5 12.5h23M7.3 1.5v5.9M18.3 1.5v5.9" fill="none" stroke="#34b531" stroke-width="2.9" stroke-linecap="round" stroke-linejoin="round"/></svg>
<svg class="i" style="left:701px;top:490px" width="27" height="26" viewBox="0 0 27 26" ><path d="M2.5 8H25.4M0.4 17H23.5M10 0.9L6 23.8M20 0.9L16 23.8" fill="none" stroke="#4d6fe8" stroke-width="2.8" stroke-linecap="round" stroke-linejoin="round"/></svg>
<svg class="i" style="left:701.2px;top:884.5px" width="26" height="26" viewBox="0 0 26 26" ><rect x="1.5" y="1.5" width="23" height="23" rx="4.6" fill="none" stroke="#34b531" stroke-width="3" stroke-linecap="round" stroke-linejoin="round"/><path d="M8.2 8H18M13.1 8v10.4" fill="none" stroke="#34b531" stroke-width="3" stroke-linecap="round" stroke-linejoin="round"/></svg>
<div class="t" style="left:981.500px;top:279.500px;font-size:20px;line-height:30px;font-style:italic;font-weight:700;color:#34b531;font-family:&quot;DejaVu Serif&quot;,&quot;Liberation Serif&quot;,serif">f</div>
<div class="t" style="left:992px;top:285.500px;font-size:15px;line-height:20px;font-weight:700;color:#34b531;letter-spacing:-0.200px">(x)</div>
<svg class="i" style="left:0;top:0" width="2560" height="1440" viewBox="0 0 2560 1440"><path d="M676.700 218.400H703.300M694.500 209L704 218.400L694.500 227.900" fill="none" stroke="#484848" stroke-width="3.400" stroke-linecap="round" stroke-linejoin="miter"/></svg>
<svg class="i" style="left:660px;top:393px" width="120" height="60" viewBox="0 0 2560 1280"><path d="M455 548L648 358L841 548M648 370V942" fill="none" stroke="#484848" stroke-width="72" stroke-linecap="round" stroke-linejoin="miter"/></svg>
<svg class="i" style="left:660px;top:598px" width="120" height="60" viewBox="0 0 2560 1280"><path d="M455 548L648 358L841 548M648 370V942" fill="none" stroke="#484848" stroke-width="72" stroke-linecap="round" stroke-linejoin="miter"/></svg>
<svg class="i" style="left:660px;top:790px" width="120" height="60" viewBox="0 0 2560 1280"><path fill-rule="evenodd" fill="#484848" d="M505 250C540 215 640 230 740 300C850 375 920 480 900 560C895 590 885 612 868 630L560 845C520 870 470 865 430 835L310 740C275 710 270 650 290 600ZM490 395L340 630H720C640 590 540 500 490 395Z"/><ellipse cx="695" cy="440" rx="196" ry="72" transform="rotate(44 695 440)" fill="#fff"/><path fill="#484848" d="M875 705C840 770 790 810 790 860A85 85 0 0 0 960 860C960 810 910 770 875 705Z"/></svg>
<svg class="i" style="left:660px;top:995px" width="120" height="60" viewBox="0 0 2560 1280"><path d="M458 275L315 545H600Z" fill="none" stroke="#484848" stroke-width="66" stroke-linejoin="round"/><path d="M725 550L985 280" fill="none" stroke="#484848" stroke-width="62" stroke-linecap="square"/><circle cx="458" cy="780" r="137" fill="none" stroke="#484848" stroke-width="66"/><rect x="718" y="648" width="250" height="245" rx="38" fill="none" stroke="#484848" stroke-width="66"/></svg>
<svg class="i" style="left:660px;top:1182px" width="120" height="60" viewBox="0 0 2560 1280"><path d="M350 412H950M350 640H755M350 868H470" fill="none" stroke="#484848" stroke-width="72" stroke-linecap="round"/></svg>
<div class="t" style="left:680.500px;top:1384px;font-size:27px;line-height:32px;font-weight:700;color:#484848">A</div>
<svg class="i" style="left:0;top:0" width="2560" height="1440" viewBox="0 0 2560 1440"><rect x="1309" y="138.0" width="1158" height="2" fill="#e2e2e2"/>
<rect x="1309" y="261.9" width="1158" height="2" fill="#e2e2e2"/>
<rect x="1309" y="386.0" width="1158" height="2" fill="#e2e2e2"/>
<rect x="1309" y="507.6" width="1158" height="2" fill="#e2e2e2"/>
<rect x="1309" y="629.8" width="1158" height="2" fill="#e2e2e2"/>
<rect x="1309" y="753.6" width="1158" height="2" fill="#e2e2e2"/>
<rect x="1309" y="875.7" width="1158" height="2" fill="#e2e2e2"/>
<rect x="1309" y="997.9" width="1158" height="2" fill="#e2e2e2"/>
<rect x="1309" y="1121.9" width="1158" height="2" fill="#e2e2e2"/>
<rect x="1319.0" y="139" width="2" height="1123" fill="#e2e2e2"/>
<rect x="1629.0" y="139" width="2" height="1123" fill="#e2e2e2"/>
<rect x="1939.0" y="139" width="2" height="1123" fill="#e2e2e2"/>
<rect x="2247.0" y="139" width="2" height="1123" fill="#e2e2e2"/>
<rect x="1309" y="1243.6" width="1158" height="2" fill="#c4c4c4"/>
<polyline points="1320.0,1234.6 1346.3,1227.1 1370.9,1212.7 1397.2,1206.3 1422.6,1180.8 1448.9,1175.8 1474.3,1192.3 1500.6,1161.7 1526.9,1133.5 1552.3,1149.6 1578.6,1112.7 1604.0,1141.3 1630.3,1120.0 1656.6,1114.4 1680.3,1050.6 1706.6,1082.2 1732.0,1032.5 1758.3,1024.2 1783.8,1044.2 1810.0,1065.8 1836.3,1059.4 1861.8,985.8 1888.0,1015.8 1913.5,992.8 1939.7,971.3 1966.0,995.5 1989.8,972.5 2016.1,942.5 2041.5,861.2 2067.8,912.5 2093.2,866.9 2119.5,874.2 2145.8,828.3 2171.2,866.7 2197.5,865.7 2222.9,850.0 2249.2,783.9 2275.5,852.7 2299.2,768.9 2325.5,826.7 2350.9,824.0 2377.2,794.0 2402.7,797.1 2428.9,714.4 2455.2,975.6" fill="none" stroke="#4da2f1" stroke-width="4" stroke-linejoin="round" stroke-linecap="round"/>
<polyline points="1320.0,1237.7 1346.3,1229.4 1370.9,1212.5 1397.2,1174.6 1422.6,1187.7 1448.9,1134.6 1474.3,1131.9 1500.6,1107.5 1526.9,1092.3 1552.3,1072.5 1578.6,1038.1 1604.0,1032.9 1630.3,1039.3 1656.6,992.8 1680.3,988.1 1706.6,966.9 1732.0,952.5 1758.3,893.3 1783.8,880.8 1810.0,860.8 1836.3,844.7 1861.8,807.5 1888.0,843.3 1913.5,795.6 1939.7,777.2 1966.0,791.8 1989.8,741.8 2016.1,753.8 2041.5,702.0 2067.8,700.0 2093.2,671.2 2119.5,650.0 2145.8,627.3 2171.2,611.7 2197.5,595.0 2222.9,513.3 2249.2,443.3 2275.5,600.1 2299.2,454.1 2325.5,464.3 2350.9,427.3 2377.2,467.5 2402.7,402.5 2428.9,306.8 2455.2,665.0" fill="none" stroke="#ff3d64" stroke-width="4" stroke-linejoin="round" stroke-linecap="round"/>
<rect x="1564.700" y="1338" width="76" height="4" fill="#4da2f1"/>
<rect x="1898.900" y="1338" width="76" height="4" fill="#ff3d64"/>
<text class="cl" x="1279.100" y="146.2" text-anchor="end">2 250k</text>
<text class="cl" x="1279.100" y="269.0" text-anchor="end">2 000k</text>
<text class="cl" x="1279.100" y="391.9" text-anchor="end">1 750k</text>
<text class="cl" x="1279.100" y="514.7" text-anchor="end">1 500k</text>
<text class="cl" x="1279.100" y="637.6" text-anchor="end">1 250k</text>
<text class="cl" x="1279.100" y="760.4" text-anchor="end">1 000k</text>
<text class="cl" x="1279.100" y="883.2" text-anchor="end">750k</text>
<text class="cl" x="1279.100" y="1006.1" text-anchor="end">500k</text>
<text class="cl" x="1279.100" y="1128.9" text-anchor="end">250k</text>
<text class="cl" x="1279.100" y="1251.8" text-anchor="end">0</text>
<text class="cl" x="1320.8" y="1282" text-anchor="middle">2016</text>
<text class="cl" x="1631.1" y="1282" text-anchor="middle">2017</text>
<text class="cl" x="1940.5" y="1282" text-anchor="middle">2018</text>
<text class="cl" x="2250.0" y="1282" text-anchor="middle">2019</text>
<text class="cl lg" x="1652" y="1347">Банковская карта</text>
<text class="cl lg" x="1986" y="1347">Наличные</text>
<circle cx="2435" cy="148.75" r="3" fill="#8c8c8c"/>
<circle cx="2445" cy="148.75" r="3" fill="#8c8c8c"/>
<circle cx="2455" cy="148.75" r="3" fill="#8c8c8c"/></svg>
<div class="t" id="t0" style="left:151.28px;top:25.91px;font-size:26px;line-height:26px;font-weight:400;color:#808080;letter-spacing:0.094px;">Collections and workbooks</div>
<div class="t" id="t1" style="left:473.00px;top:25.91px;font-size:26px;line-height:26px;font-weight:400;color:#808080;letter-spacing:0.000px;">/</div>
<div class="t" id="t2" style="left:490.34px;top:25.91px;font-size:26px;line-height:26px;font-weight:400;color:#808080;letter-spacing:0.092px;">Tutorials</div>
<div class="t" id="t3" style="left:599.00px;top:25.91px;font-size:26px;line-height:26px;font-weight:400;color:#808080;letter-spacing:0.000px;">/</div>
<div class="t" id="t4" style="left:615.69px;top:24.71px;font-size:26px;line-height:26px;font-weight:400;color:#1f1f1f;letter-spacing:0.095px;">Sales dynamics by month and payment type</div>
<div class="t" id="t5" style="left:2135.97px;top:25.91px;font-size:26px;line-height:26px;font-weight:400;color:#1f1f1f;letter-spacing:-0.367px;">Full screen</div>
<div class="t" id="t6" style="left:2327.19px;top:25.91px;font-size:26px;line-height:26px;font-weight:400;color:#a6a6a6;letter-spacing:-0.612px;">Saved</div>
<div class="t" id="t7" style="left:210.97px;top:105.91px;font-size:26px;line-height:26px;font-weight:400;color:#1f1f1f;letter-spacing:0.365px;">Dataset:</div>
<div class="t" id="t8" style="left:324.47px;top:105.91px;font-size:26px;line-height:26px;font-weight:400;color:#5b7c9d;letter-spacing:-0.375px;">Moscow Sales ...</div>
<div class="t" id="t9" style="left:153.19px;top:208.91px;font-size:26px;line-height:26px;font-weight:400;color:#b3b3b3;letter-spacing:-0.168px;">Search by name or descript</div>
<div class="t" id="t10" style="left:135.57px;top:286.41px;font-size:26px;line-height:26px;font-weight:700;color:#1f1f1f;letter-spacing:-0.588px;">Dimensions</div>
<div class="t" id="t11" style="left:724.17px;top:105.91px;font-size:26px;line-height:26px;font-weight:400;color:#303030;letter-spacing:0.007px;">Line chart</div>
<div class="t" id="t12" style="left:191.28px;top:350.41px;font-size:26px;line-height:26px;font-weight:400;color:#262626;letter-spacing:0.286px;">ClientAddress</div>
<div class="t" id="t13" style="left:191.28px;top:425.41px;font-size:26px;line-height:26px;font-weight:400;color:#262626;letter-spacing:0.128px;">ClientID</div>
<div class="t" id="t14" style="left:191.28px;top:502.16px;font-size:26px;line-height:26px;font-weight:400;color:#262626;letter-spacing:0.355px;">ClientName</div>
<div class="t" id="t15" style="left:191.28px;top:577.66px;font-size:26px;line-height:26px;font-weight:400;color:#262626;letter-spacing:0.327px;">ClientStatus</div>
<div class="t" id="t16" style="left:190.47px;top:654.66px;font-size:26px;line-height:26px;font-weight:400;color:#262626;letter-spacing:0.844px;">DayOfBirth</div>
<div class="t" id="t17" style="left:190.47px;top:729.16px;font-size:26px;line-height:26px;font-weight:400;color:#262626;letter-spacing:0.244px;">DeliveryAddressCoord</div>
<div class="t" id="t18" style="left:190.47px;top:805.91px;font-size:26px;line-height:26px;font-weight:400;color:#262626;letter-spacing:0.393px;">DeliveryDatetime</div>
<div class="t" id="t19" style="left:190.47px;top:880.91px;font-size:26px;line-height:26px;font-weight:400;color:#262626;letter-spacing:0.339px;">DeliveryDistrictCoordinates</div>
<div class="t" id="t20" style="left:190.47px;top:957.91px;font-size:26px;line-height:26px;font-weight:400;color:#262626;letter-spacing:0.442px;">DeliveryDistrictName</div>
<div class="t" id="t21" style="left:190.47px;top:1032.91px;font-size:26px;line-height:26px;font-weight:400;color:#262626;letter-spacing:0.369px;">DeliveryType</div>
<div class="t" id="t22" style="left:190.47px;top:1109.66px;font-size:26px;line-height:26px;font-weight:400;color:#262626;letter-spacing:0.469px;">Discount</div>
<div class="t" id="t23" style="left:190.47px;top:1184.66px;font-size:26px;line-height:26px;font-weight:400;color:#262626;letter-spacing:-0.339px;">FinalSales</div>
<div class="t" id="t24" style="left:191.28px;top:1261.66px;font-size:26px;line-height:26px;font-weight:400;color:#262626;letter-spacing:0.025px;">Gender</div>
<div class="t" id="t25" style="left:191.28px;top:1337.16px;font-size:26px;line-height:26px;font-weight:400;color:#262626;letter-spacing:0.362px;">OrderDate</div>
<div class="t" id="t26" style="left:730.59px;top:206.11px;font-size:26px;line-height:26px;font-weight:400;color:#4d4d4d;letter-spacing:0.000px;">X</div>
<div class="t" id="t27" style="left:753.18px;top:284.21px;font-size:26px;line-height:26px;font-weight:400;color:#1f1f1f;letter-spacing:0.343px;">OrderDate</div>
<div class="t" id="t28" style="left:731.09px;top:409.91px;font-size:26px;line-height:26px;font-weight:400;color:#4d4d4d;letter-spacing:0.000px;">Y</div>
<div class="t" id="t29" style="left:752.97px;top:489.21px;font-size:26px;line-height:26px;font-weight:400;color:#1f1f1f;letter-spacing:0.025px;">Price</div>
<div class="t" id="t30" style="left:731.09px;top:615.31px;font-size:26px;line-height:26px;font-weight:400;color:#4d4d4d;letter-spacing:-0.900px;">Y2</div>
<div class="t" id="t31" style="left:730.03px;top:804.66px;font-size:26px;line-height:26px;font-weight:400;color:#4d4d4d;letter-spacing:0.030px;">Colors</div>
<div class="t" id="t32" style="left:752.97px;top:884.66px;font-size:26px;line-height:26px;font-weight:400;color:#1f1f1f;letter-spacing:0.461px;">PaymentType</div>
<div class="t" id="t33" style="left:730.44px;top:1009.66px;font-size:26px;line-height:26px;font-weight:400;color:#4d4d4d;letter-spacing:-0.411px;">Shapes</div>
<div class="t" id="t34" style="left:730.19px;top:1200.01px;font-size:26px;line-height:26px;font-weight:400;color:#4d4d4d;letter-spacing:0.732px;">Sorting</div>
<div class="t" id="t35" style="left:728.97px;top:1387.91px;font-size:26px;line-height:26px;font-weight:400;color:#4d4d4d;letter-spacing:0.346px;">Labels</div>
<div class="b" style="left:2526px;top:3px;width:31px;height:1403px;background:#f1f1f1"></div>
<div class="b" style="left:2529px;top:33px;width:28px;height:1308px;background:#c1c1c1"></div>
<svg class="i" style="left:2535.500px;top:14px" width="15.500" height="8" viewBox="0 0 16 8"><path d="M0 8L8 0l8 8z" fill="#a3a3a3"/></svg>
<svg class="i" style="left:2535.500px;top:1384px" width="15.500" height="8" viewBox="0 0 16 8"><path d="M0 0h16L8 8z" fill="#505050"/></svg>
<div class="b" style="left:3px;top:1406px;width:2523px;height:31px;background:#f1f1f1"></div>
<div class="b" style="left:33px;top:1409px;width:2414px;height:28px;background:#c1c1c1"></div>
<svg class="i" style="left:13px;top:1415px" width="8" height="16" viewBox="0 0 8 16"><path d="M8 0v16L0 8z" fill="#a3a3a3"/></svg>
<svg class="i" style="left:2506px;top:1415px" width="8" height="16" viewBox="0 0 8 16"><path d="M0 0v16l8-8z" fill="#505050"/></svg>
<div class="b" style="left:2526px;top:1406px;width:31px;height:31px;background:#dcdcdc"></div>
</div></div></body></html>
